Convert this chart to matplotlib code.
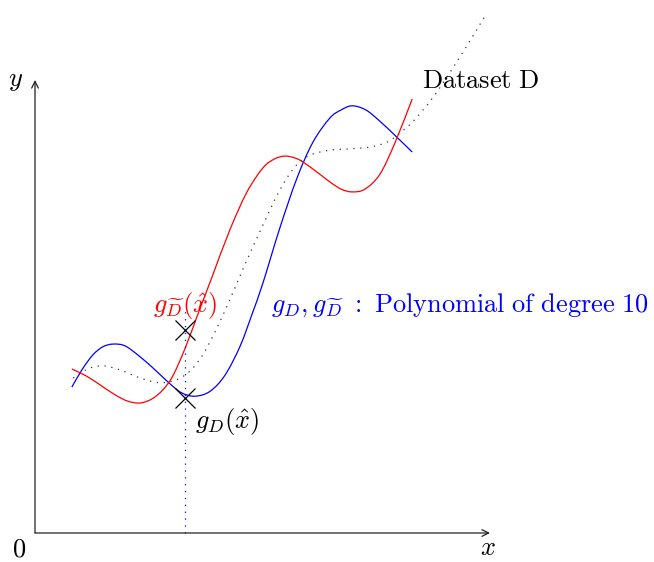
import numpy as np
import matplotlib
matplotlib.use("Agg")
import matplotlib.pyplot as plt
from matplotlib.path import Path
from matplotlib.patches import PathPatch

plt.rcParams['mathtext.fontset'] = 'cm'

# underlying function (dataset D), dotted
true_x = [0.84, 1.16, 1.49, 1.87, 2.26, 2.64, 2.92, 3.19, 3.45, 3.71, 4.00, 4.29, 4.62,
          5.01, 5.38, 5.71, 6.04, 6.48, 6.92, 7.36, 7.74, 8.02, 8.31, 8.75, 9.34, 9.93]
true_y = [3.42, 3.62, 3.69, 3.60, 3.44, 3.33, 3.33, 3.42, 3.62, 3.97, 4.53, 5.17, 5.94,
          6.80, 7.57, 8.08, 8.34, 8.45, 8.48, 8.52, 8.63, 8.83, 9.09, 9.62, 10.51, 11.48]

# polynomial fit g_D (blue)
gd_x = [0.81, 1.03, 1.27, 1.49, 1.71, 1.98, 2.31, 2.64, 2.97, 3.23, 3.52, 3.85, 4.18,
        4.51, 4.77, 5.01, 5.38, 5.76, 6.11, 6.48, 6.73, 6.97, 7.27, 7.58, 7.93, 8.29]
gd_y = [3.22, 3.60, 3.93, 4.11, 4.17, 4.13, 3.89, 3.60, 3.29, 3.09, 3.02, 3.13, 3.49,
        4.13, 4.83, 5.52, 6.73, 7.84, 8.63, 9.16, 9.34, 9.43, 9.34, 9.09, 8.76, 8.41]

# polynomial fit g_D~ (red)
gdt_x = [0.81, 1.12, 1.43, 1.76, 2.04, 2.31, 2.57, 2.81, 3.03, 3.30, 3.58, 3.89, 4.29, 4.66,
         5.01, 5.27, 5.49, 5.71, 5.89, 6.22, 6.48, 6.73, 6.97, 7.25, 7.58, 7.91, 8.29]
gdt_y = [3.62, 3.47, 3.27, 3.05, 2.91, 2.87, 2.96, 3.16, 3.47, 4.08, 4.83, 5.65, 6.71, 7.53,
         8.06, 8.26, 8.32, 8.28, 8.19, 7.95, 7.75, 7.59, 7.53, 7.59, 7.92, 8.61, 9.58]

x_hat = 3.30
gd_at_xhat = 2.98
gdt_at_xhat = 4.48


def smooth_path(xs, ys):
    # Catmull-Rom through the points, as cubic bezier segments
    p = np.column_stack([xs, ys])
    ext = np.vstack([p[0], p, p[-1]])
    verts = [p[0]]
    codes = [Path.MOVETO]
    for i in range(1, len(ext) - 2):
        c1 = ext[i] + (ext[i + 1] - ext[i - 1]) / 6
        c2 = ext[i + 1] - (ext[i + 2] - ext[i]) / 6
        verts += [c1, c2, ext[i + 1]]
        codes += [Path.CURVE4] * 3
    return Path(verts, codes)


fig = plt.figure(figsize=(6.54, 5.62), dpi=100)
ax = fig.add_axes([0, 0, 1, 1])
ax.set_xlim(-35 / 45.5, 619 / 45.5)
ax.set_ylim(-29 / 45.3, 533 / 45.3)
ax.axis('off')

# axes with arrows
arrow = dict(arrowstyle='->', lw=0.9, color='#222222', mutation_scale=12,
             shrinkA=0, shrinkB=0)
ax.annotate('', xy=(10, 0), xytext=(0, 0), arrowprops=arrow)
ax.annotate('', xy=(0, 10), xytext=(0, 0), arrowprops=arrow)

ax.add_patch(PathPatch(smooth_path(true_x, true_y), fill=False, color='#333333',
                       lw=0.9, linestyle=(0, (1, 4.5))))
ax.add_patch(PathPatch(smooth_path(gd_x, gd_y), fill=False, color='blue', lw=0.9))
ax.add_patch(PathPatch(smooth_path(gdt_x, gdt_y), fill=False, color='red', lw=0.9))

# x_hat marker line and the two predictions
ax.plot([x_hat, x_hat], [0, 4.97], color='blue', lw=0.9, linestyle=(0, (1, 4.5)))
ax.plot([x_hat, x_hat], [gd_at_xhat, gdt_at_xhat], linestyle='none', marker='x',
        ms=15, mew=0.9, color='black')

fs = 19
ax.text(-0.42, 10.0, r'$y$', fontsize=fs, ha='center', va='center')
ax.text(-0.35, -0.52, r'$0$', fontsize=fs, ha='center', va='baseline')
ax.text(9.96, -0.33, r'$x$', fontsize=fs, ha='center', va='center')
ax.text(8.51, 9.98, r'$\mathrm{Dataset\ D}$', fontsize=fs, ha='left', va='center')
ax.text(3.30, 5.03, r'$g_{\widetilde{D}}(\hat{x})$', fontsize=fs, color='red',
        ha='center', va='center')
ax.text(3.52, 2.47, r'$g_D(\hat{x})$', fontsize=fs, ha='left', va='center')
ax.text(5.19, 5.03, r'$g_D, g_{\widetilde{D}}\ :\ \mathrm{Polynomial\ of\ degree\ 10}$',
        fontsize=fs, color='blue', ha='left', va='center')

fig.savefig('out.png', dpi=100)
